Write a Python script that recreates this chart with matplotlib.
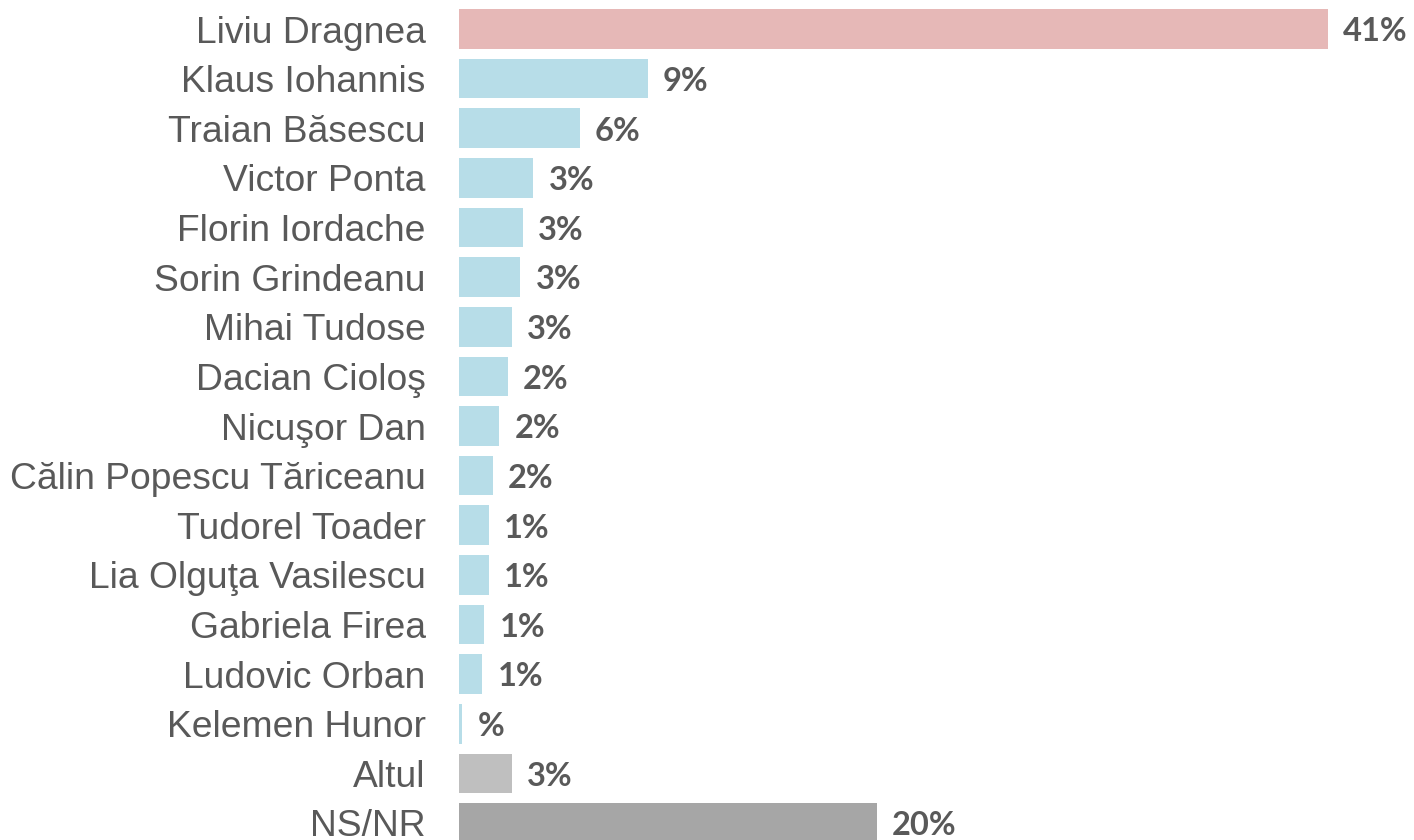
import matplotlib.pyplot as plt
import numpy as np

# data
names = ["Liviu Dragnea", "Klaus Iohannis", "Traian Băsescu", "Victor Ponta",
         "Florin Iordache", "Sorin Grindeanu", "Mihai Tudose", "Dacian Cioloş",
         "Nicuşor Dan", "Călin Popescu Tăriceanu", "Tudorel Toader",
         "Lia Olguţa Vasilescu", "Gabriela Firea", "Ludovic Orban",
         "Kelemen Hunor", "Altul", "NS/NR"]
values = [41.0, 8.9, 5.7, 3.5, 3.0, 2.9, 2.5, 2.3, 1.9, 1.6, 1.4, 1.4,
          1.2, 1.1, 0.15, 2.5, 19.7]
labels = ["41%", "9%", "6%", "3%", "3%", "3%", "3%", "2%", "2%", "2%",
          "1%", "1%", "1%", "1%", "%", "3%", "20%"]

colors = ["#E6B8B7"] + ["#B7DDE8"] * 14 + ["#BFBFBF", "#A6A6A6"]
text_color = "#595959"

fig = plt.figure(figsize=(14.14, 8.4), dpi=100)
ax = fig.add_axes([459 / 1414, 0, 1 - 459 / 1414, 1])

y = np.arange(len(names))
ax.barh(y, values, height=0.8, color=colors)

ax.set_xlim(0, 41 * 955 / 869)
ax.set_ylim(16 + 17 / 49.6, -29 / 49.6)

ax.set_yticks(y)
ax.set_yticklabels(names, fontsize=26.8, color=text_color, family="Liberation Sans")
ax.tick_params(axis="y", length=0, pad=24)
ax.set_xticks([])
for s in ax.spines.values():
    s.set_visible(False)

for yi, v, lab in zip(y, values, labels):
    ax.annotate(lab, (v, yi), xytext=(11, -2), textcoords="offset points",
                va="center", ha="left", fontsize=23.5, fontweight="bold",
                color=text_color, family="Lato")

plt.savefig("out.png", dpi=100)
